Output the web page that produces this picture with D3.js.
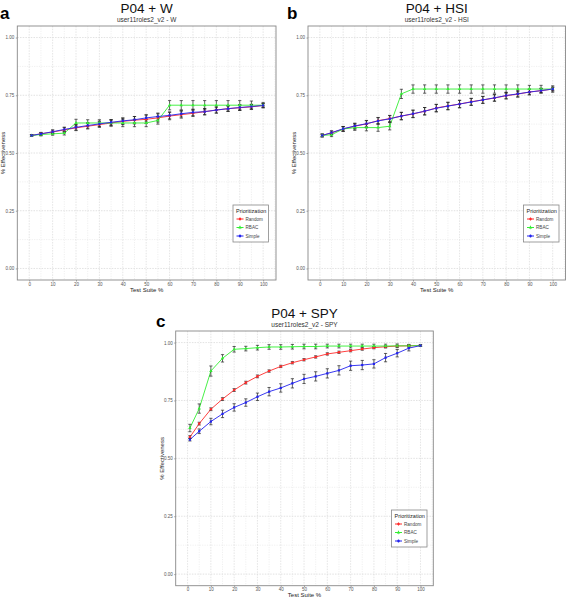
<!DOCTYPE html>
<html><head><meta charset="utf-8">
<script src="https://cdn.jsdelivr.net/npm/d3@7"></script>
<style>body{margin:0;background:#fff}svg{display:block}text{font-family:"Liberation Sans",Arial,sans-serif}</style>
</head><body>
<script>
const testSuite = [1,5,10,15,20,25,30,35,40,45,50,55,60,65,70,75,80,85,90,95,100];
const xTicks = [0,10,20,30,40,50,60,70,80,90,100];
const yTicks = [0,0.25,0.5,0.75,1];
const yTickLabels = ["0.00","0.25","0.50","0.75","1.00"];
const seriesNames = ["Random","RBAC","Simple"];
const seriesColors = ["#ff2a2a","#33ee33","#2222ee"];

// Panel a: P04 + W
const aRandom = [0.576,0.583,0.591,0.600,0.609,0.616,0.623,0.630,0.637,0.642,0.646,0.652,0.660,0.666,0.672,0.679,0.686,0.692,0.696,0.700,0.706];
const aRBAC   = [0.576,0.580,0.583,0.586,0.630,0.630,0.630,0.630,0.630,0.630,0.630,0.641,0.707,0.707,0.707,0.707,0.707,0.707,0.707,0.707,0.707];
const aSimple = [0.576,0.583,0.592,0.602,0.611,0.619,0.626,0.633,0.639,0.644,0.652,0.658,0.663,0.670,0.676,0.679,0.686,0.692,0.697,0.701,0.706];
const aErrRandom = [0.004,0.006,0.008,0.010,0.012,0.012,0.012,0.012,0.014,0.016,0.018,0.018,0.016,0.015,0.014,0.014,0.013,0.012,0.012,0.010,0.008];
const aErrRBAC   = [0.004,0.006,0.006,0.008,0.016,0.014,0.014,0.014,0.016,0.016,0.016,0.016,0.020,0.020,0.020,0.020,0.020,0.020,0.020,0.018,0.012];
const aErrSimple = [0.004,0.006,0.008,0.010,0.012,0.012,0.012,0.012,0.013,0.014,0.014,0.015,0.015,0.014,0.014,0.013,0.013,0.012,0.012,0.010,0.008];

// Panel b: P04 + HSI
const bRandom = [0.576,0.587,0.604,0.616,0.626,0.640,0.649,0.660,0.669,0.681,0.695,0.704,0.712,0.722,0.730,0.738,0.748,0.755,0.764,0.770,0.777];
const bRBAC   = [0.576,0.579,0.604,0.610,0.610,0.610,0.616,0.756,0.777,0.777,0.777,0.777,0.777,0.777,0.777,0.777,0.777,0.777,0.777,0.777,0.777];
const bSimple = [0.576,0.588,0.605,0.617,0.627,0.639,0.648,0.660,0.670,0.681,0.694,0.703,0.712,0.721,0.730,0.739,0.749,0.756,0.764,0.770,0.777];
const bErrRandom = [0.006,0.008,0.010,0.012,0.014,0.014,0.014,0.016,0.016,0.016,0.016,0.016,0.016,0.015,0.015,0.014,0.014,0.013,0.012,0.010,0.008];
const bErrRBAC   = [0.006,0.008,0.010,0.012,0.014,0.016,0.016,0.020,0.018,0.018,0.018,0.018,0.018,0.018,0.018,0.018,0.018,0.018,0.016,0.016,0.014];
const bErrSimple = [0.006,0.008,0.010,0.012,0.014,0.014,0.014,0.016,0.016,0.016,0.016,0.016,0.016,0.015,0.015,0.014,0.014,0.013,0.012,0.010,0.008];

// Panel c: P04 + SPY
const cRandom = [0.592,0.650,0.712,0.756,0.795,0.827,0.854,0.877,0.897,0.913,0.926,0.938,0.951,0.958,0.965,0.972,0.978,0.982,0.985,0.986,0.987];
const cRBAC   = [0.631,0.715,0.877,0.932,0.971,0.974,0.978,0.981,0.981,0.982,0.983,0.983,0.985,0.985,0.985,0.985,0.985,0.985,0.986,0.986,0.987];
const cSimple = [0.581,0.617,0.659,0.692,0.720,0.741,0.766,0.788,0.804,0.824,0.843,0.854,0.867,0.880,0.900,0.903,0.908,0.935,0.954,0.976,0.987];
const cErrRandom = [0.006,0.006,0.006,0.006,0.006,0.006,0.006,0.005,0.005,0.005,0.005,0.005,0.005,0.005,0.005,0.005,0.005,0.004,0.004,0.004,0.003];
const cErrRBAC   = [0.016,0.020,0.022,0.016,0.012,0.010,0.010,0.010,0.010,0.010,0.010,0.010,0.008,0.008,0.008,0.008,0.008,0.008,0.008,0.006,0.004];
const cErrSimple = [0.006,0.010,0.014,0.016,0.016,0.016,0.016,0.018,0.018,0.020,0.020,0.020,0.020,0.020,0.020,0.020,0.018,0.018,0.016,0.012,0.004];

const panels = [
  {tag:"a", title:"P04 + W", subtitle:"user11roles2_v2 - W", left:17.3, right:276, top:26, bottom:280,
   values:[aRandom,aRBAC,aSimple], errs:[aErrRandom,aErrRBAC,aErrSimple], tagX:0, tagY:19,
   legend:{x:233, y:205}},
  {tag:"b", title:"P04 + HSI", subtitle:"user11roles2_v2 - HSI", left:308, right:565.5, top:26, bottom:280,
   values:[bRandom,bRBAC,bSimple], errs:[bErrRandom,bErrRBAC,bErrSimple], tagX:287, tagY:19,
   legend:{x:523.5, y:205}},
  {tag:"c", title:"P04 + SPY", subtitle:"user11roles2_v2 - SPY", left:175.7, right:433.3, top:331, bottom:585.7,
   values:[cRandom,cRBAC,cSimple], errs:[cErrRandom,cErrRBAC,cErrSimple], tagX:156, tagY:327,
   legend:{x:391.5, y:510}}
];

const svg = d3.select("body").append("svg").attr("width",566).attr("height",598);

const shapes = [d3.symbolCircle, d3.symbolTriangle, d3.symbolSquare];

panels.forEach(p => {
  const g = svg.append("g");
  const x = d3.scaleLinear().domain([-5.1,105.5]).range([p.left,p.right]);
  const y = d3.scaleLinear().domain([-0.05,1.05]).range([p.bottom,p.top]);
  const cx = (p.left+p.right)/2;

  // titles
  g.append("text").attr("x",p.tagX).attr("y",p.tagY).attr("font-size",17).attr("font-weight","bold").text(p.tag);
  g.append("text").attr("x",cx).attr("y",p.top-13.5).attr("text-anchor","middle").attr("font-size",13.5).attr("fill","#111").text(p.title);
  g.append("text").attr("x",cx).attr("y",p.top-4).attr("text-anchor","middle").attr("font-size",6.5).attr("fill","#333").text(p.subtitle);

  // grid
  const minorX = d3.range(-5,106,10);
  const minorY = [0.125,0.375,0.625,0.875];
  const grid = g.append("g");
  grid.selectAll(".mx").data(minorX.filter(v=>x(v)>p.left+0.5 && x(v)<p.right-0.5)).join("line")
    .attr("x1",d=>x(d)).attr("x2",d=>x(d)).attr("y1",p.top).attr("y2",p.bottom)
    .attr("stroke","#e6e6e6").attr("stroke-width",0.6).attr("stroke-dasharray","1.2,1.2");
  grid.selectAll(".my").data(minorY).join("line")
    .attr("y1",d=>y(d)).attr("y2",d=>y(d)).attr("x1",p.left).attr("x2",p.right)
    .attr("stroke","#e6e6e6").attr("stroke-width",0.6).attr("stroke-dasharray","1.2,1.2");
  grid.selectAll(".Mx").data(xTicks).join("line")
    .attr("x1",d=>x(d)).attr("x2",d=>x(d)).attr("y1",p.top).attr("y2",p.bottom)
    .attr("stroke","#dadada").attr("stroke-width",0.7).attr("stroke-dasharray","1.5,1.2");
  grid.selectAll(".My").data(yTicks).join("line")
    .attr("y1",d=>y(d)).attr("y2",d=>y(d)).attr("x1",p.left).attr("x2",p.right)
    .attr("stroke","#dadada").attr("stroke-width",0.8).attr("stroke-dasharray","1.5,1.2");

  // axes
  const xAxis = d3.axisBottom(x).tickValues(xTicks).tickSize(1.5).tickPadding(1).tickFormat(d3.format("d"));
  const xg = g.append("g").attr("transform",`translate(0,${p.bottom})`).call(xAxis);
  xg.select(".domain").remove();
  xg.selectAll("line").attr("stroke","#666").attr("stroke-width",0.6);
  xg.selectAll("text").attr("font-size",4.5).attr("fill","#555").attr("font-family","Liberation Sans, Arial, sans-serif");
  const yAxis = d3.axisLeft(y).tickValues(yTicks).tickSize(1.5).tickPadding(1.5).tickFormat((d,i)=>yTickLabels[i]);
  const yg = g.append("g").attr("transform",`translate(${p.left},0)`).call(yAxis);
  yg.select(".domain").remove();
  yg.selectAll("line").attr("stroke","#666").attr("stroke-width",0.6);
  yg.selectAll("text").attr("font-size",4.5).attr("fill","#555").attr("font-family","Liberation Sans, Arial, sans-serif");

  g.append("text").attr("x",cx).attr("y",p.bottom+11.5).attr("text-anchor","middle").attr("font-size",6).attr("fill","#222").text("Test Suite %");
  g.append("text").attr("transform",`translate(${p.left-12},${(p.top+p.bottom)/2}) rotate(-90)`).attr("text-anchor","middle").attr("font-size",6).attr("fill","#222").text("% Effectiveness");

  // data
  const plot = g.append("g");
  const line = d3.line().x((d,i)=>x(testSuite[i])).y(d=>y(d));
  p.values.forEach((vals,s) => {
    plot.append("path").datum(vals).attr("d",line).attr("fill","none")
      .attr("stroke",seriesColors[s]).attr("stroke-width",0.9);
  });
  p.values.forEach((vals,s) => {
    const errs = p.errs[s];
    const eg = plot.append("g").attr("stroke","#222").attr("stroke-width",0.7);
    vals.forEach((v,i) => {
      const xx = x(testSuite[i]);
      const y1 = y(v+errs[i]), y2 = y(v-errs[i]);
      eg.append("line").attr("x1",xx).attr("x2",xx).attr("y1",y1).attr("y2",y2);
      eg.append("line").attr("x1",xx-1.6).attr("x2",xx+1.6).attr("y1",y1).attr("y2",y1);
      eg.append("line").attr("x1",xx-1.6).attr("x2",xx+1.6).attr("y1",y2).attr("y2",y2);
    });
  });
  p.values.forEach((vals,s) => {
    plot.append("g").selectAll("path").data(vals).join("path")
      .attr("transform",(d,i)=>`translate(${x(testSuite[i])},${y(d)})`)
      .attr("d",d3.symbol().type(shapes[s]).size(5))
      .attr("fill",seriesColors[s]);
  });

  // border
  g.append("rect").attr("x",p.left).attr("y",p.top).attr("width",p.right-p.left).attr("height",p.bottom-p.top)
    .attr("fill","none").attr("stroke","#888").attr("stroke-width",0.9);

  // legend
  const L = p.legend;
  const lg = g.append("g").attr("transform",`translate(${L.x},${L.y})`);
  lg.append("rect").attr("width",35.5).attr("height",37).attr("fill","#fff").attr("stroke","#888").attr("stroke-width",0.8);
  lg.append("text").attr("x",3).attr("y",7.5).attr("font-size",5.5).attr("fill","#222").text("Prioritization");
  seriesNames.forEach((n,s) => {
    const yy = 14 + s*8.5;
    lg.append("line").attr("x1",3.5).attr("x2",10.5).attr("y1",yy).attr("y2",yy).attr("stroke",seriesColors[s]).attr("stroke-width",1);
    lg.append("line").attr("x1",7).attr("x2",7).attr("y1",yy-1.8).attr("y2",yy+1.8).attr("stroke",seriesColors[s]).attr("stroke-width",0.5);
    lg.append("path").attr("transform",`translate(7,${yy})`).attr("d",d3.symbol().type(shapes[s]).size(5)).attr("fill",seriesColors[s]);
    lg.append("text").attr("x",12.5).attr("y",yy+1.7).attr("font-size",4.6).attr("fill","#444").text(n);
  });
});
</script>
</body></html>
